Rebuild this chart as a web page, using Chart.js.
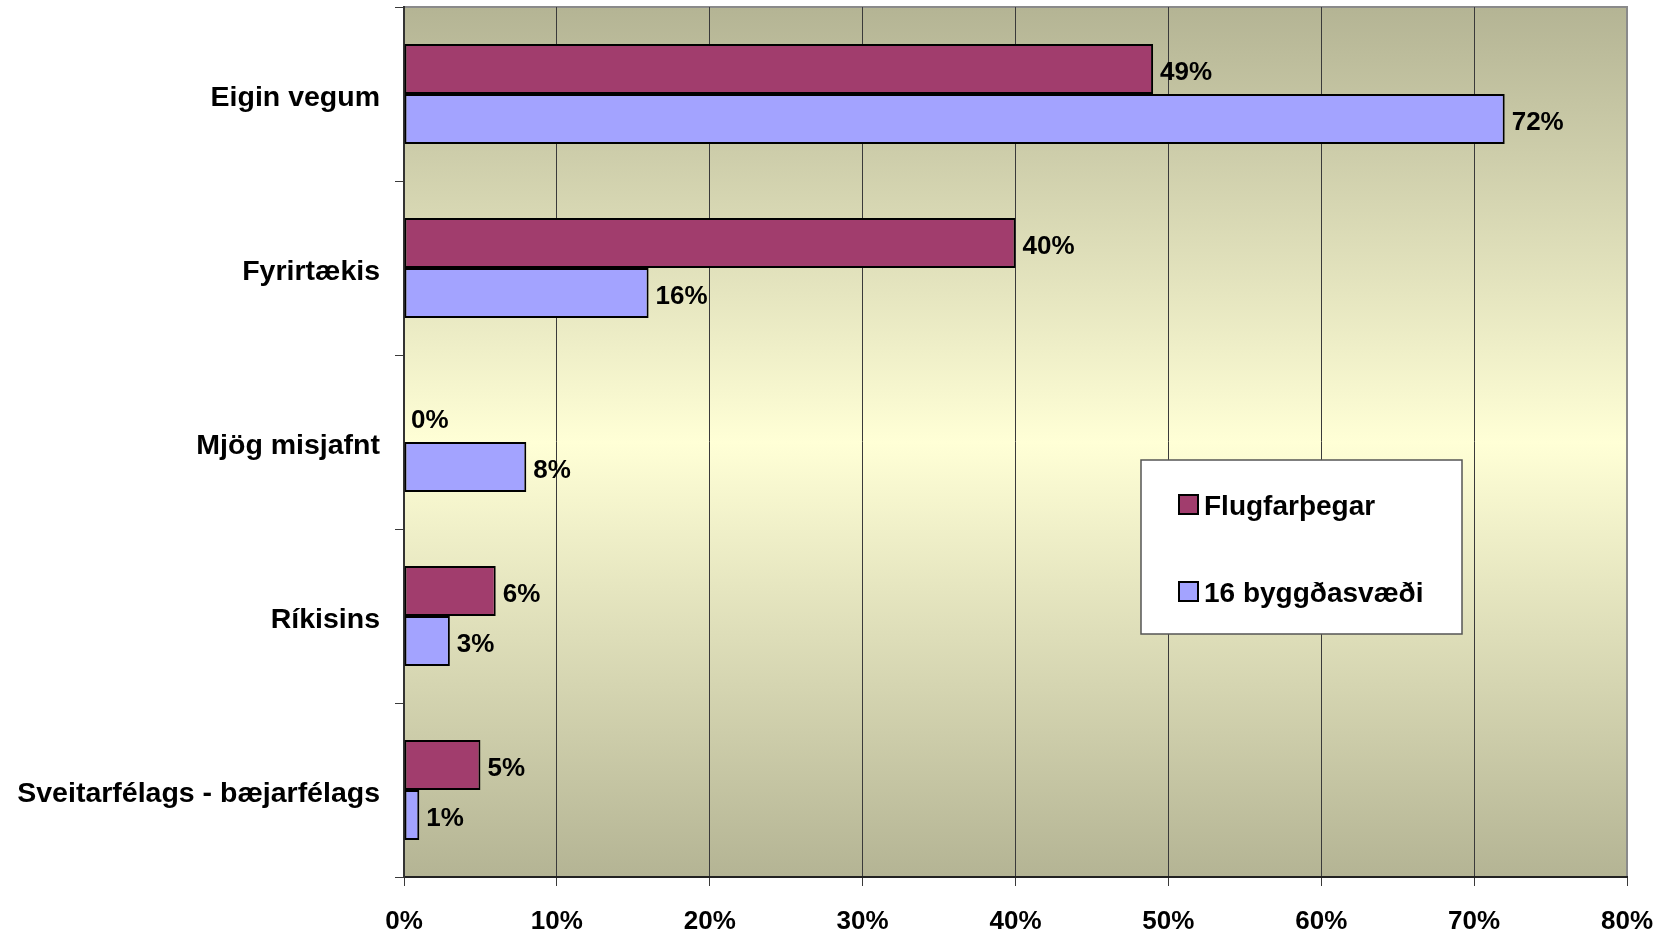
<!DOCTYPE html>
<html>
<head>
<meta charset="utf-8">
<script src="https://cdn.jsdelivr.net/npm/chart.js@4/dist/chart.umd.min.js"></script>
<style>
  html, body { margin: 0; padding: 0; background: #fff; }
  #wrap { width: 1663px; height: 935px; }
</style>
</head>
<body>
<div id="wrap"><canvas id="chart" width="1663" height="935"></canvas></div>
<script>
// categories and values (percent)
const categories = ["Eigin vegum", "Fyrirtækis", "Mjög misjafnt", "Ríkisins", "Sveitarfélags - bæjarfélags"];
const flugfarthegar = [49, 40, 0, 6, 5];
const byggdasvaedi = [72, 16, 8, 3, 1];
const seriesNames = ["Flugfarþegar", "16 byggðasvæði"];
const xTicks = [0, 10, 20, 30, 40, 50, 60, 70, 80];

const FONT = "'Liberation Sans', Arial, sans-serif";
const purple = "#a13d6d";
const lilac = "#a3a3ff";

// gradient plot background + top/right gray border
const plotBackground = {
    id: "plotBackground",
    beforeDraw(chart) {
        const { ctx, chartArea: a } = chart;
        const g = ctx.createLinearGradient(0, a.top, 0, a.bottom);
        g.addColorStop(0, "#b4b494");
        g.addColorStop(0.5, "#ffffd6");
        g.addColorStop(1, "#b4b494");
        ctx.save();
        ctx.fillStyle = g;
        ctx.fillRect(a.left, a.top, a.right - a.left, a.bottom - a.top);
        ctx.strokeStyle = "#8a8a8a";
        ctx.lineWidth = 2;
        ctx.beginPath();
        ctx.moveTo(a.left, a.top);
        ctx.lineTo(a.right, a.top);
        ctx.lineTo(a.right, a.bottom);
        ctx.stroke();
        ctx.restore();
    }
};

// value labels to the right of each bar
const barLabels = {
    id: "barLabels",
    afterDatasetsDraw(chart) {
        const ctx = chart.ctx;
        ctx.save();
        ctx.font = "bold 26px " + FONT;
        ctx.fillStyle = "#000";
        ctx.textAlign = "left";
        ctx.textBaseline = "middle";
        chart.data.datasets.forEach((ds, i) => {
            chart.getDatasetMeta(i).data.forEach((bar, j) => {
                ctx.fillText(ds.data[j] + "%", bar.x + 7, bar.y + 4);
            });
        });
        ctx.restore();
    }
};

// boxed legend inside the plot area
const boxLegend = {
    id: "boxLegend",
    afterDraw(chart) {
        const ctx = chart.ctx;
        const x = 1141, y = 460, w = 321, h = 174;
        ctx.save();
        ctx.fillStyle = "#fff";
        ctx.fillRect(x, y, w, h);
        ctx.strokeStyle = "#555";
        ctx.lineWidth = 1.5;
        ctx.strokeRect(x, y, w, h);
        const rows = [y + 45, y + 132];
        ctx.font = "bold 28px " + FONT;
        ctx.textBaseline = "middle";
        chart.data.datasets.forEach((ds, i) => {
            ctx.fillStyle = ds.backgroundColor;
            ctx.fillRect(x + 38, rows[i] - 10, 19, 19);
            ctx.strokeStyle = "#000";
            ctx.lineWidth = 2;
            ctx.strokeRect(x + 38, rows[i] - 10, 19, 19);
            ctx.fillStyle = "#000";
            ctx.fillText(ds.label, x + 63, rows[i] + 2);
        });
        ctx.restore();
    }
};

new Chart(document.getElementById("chart"), {
    type: "bar",
    data: {
        labels: categories,
        datasets: [
            { label: seriesNames[0], data: flugfarthegar, backgroundColor: purple, borderColor: "#000", borderWidth: 2, borderSkipped: false },
            { label: seriesNames[1], data: byggdasvaedi, backgroundColor: lilac, borderColor: "#000", borderWidth: 2, borderSkipped: false }
        ]
    },
    options: {
        indexAxis: "y",
        responsive: false,
        animation: false,
        layout: { padding: { top: 7, right: 36, left: 0, bottom: 0 } },
        datasets: { bar: { categoryPercentage: 0.575, barPercentage: 1 } },
        plugins: {
            legend: { display: false },
            tooltip: { enabled: false }
        },
        scales: {
            x: {
                min: 0,
                max: 80,
                afterBuildTicks(scale) {
                    scale.ticks = xTicks.map(v => ({ value: v }));
                },
                afterFit(scale) {
                    scale.height = 58;
                    scale.paddingLeft = 0;
                    scale.paddingRight = 0;
                },
                ticks: {
                    color: "#000",
                    font: { family: FONT, size: 26, weight: "bold" },
                    padding: 20,
                    callback: v => v + "%"
                },
                grid: {
                    color: c => (c.index === 8 ? "rgba(0,0,0,0)" : "#3a3a3a"),
                    lineWidth: 1,
                    tickLength: 9,
                    tickColor: "#3a3a3a"
                },
                border: { display: true, color: "#222", width: 2 }
            },
            y: {
                afterFit(scale) {
                    scale.width = 404;
                    scale.paddingTop = 0;
                    scale.paddingBottom = 0;
                },
                ticks: {
                    color: "#000",
                    font: { family: FONT, size: 28.5, weight: "bold" },
                    padding: 15,
                    labelOffset: 4
                },
                grid: {
                    offset: true,
                    drawOnChartArea: false,
                    tickLength: 9,
                    tickColor: "#3a3a3a",
                    lineWidth: 1
                },
                border: { display: true, color: "#333", width: 2 }
            }
        }
    },
    plugins: [plotBackground, barLabels, boxLegend]
});
</script>
</body>
</html>
